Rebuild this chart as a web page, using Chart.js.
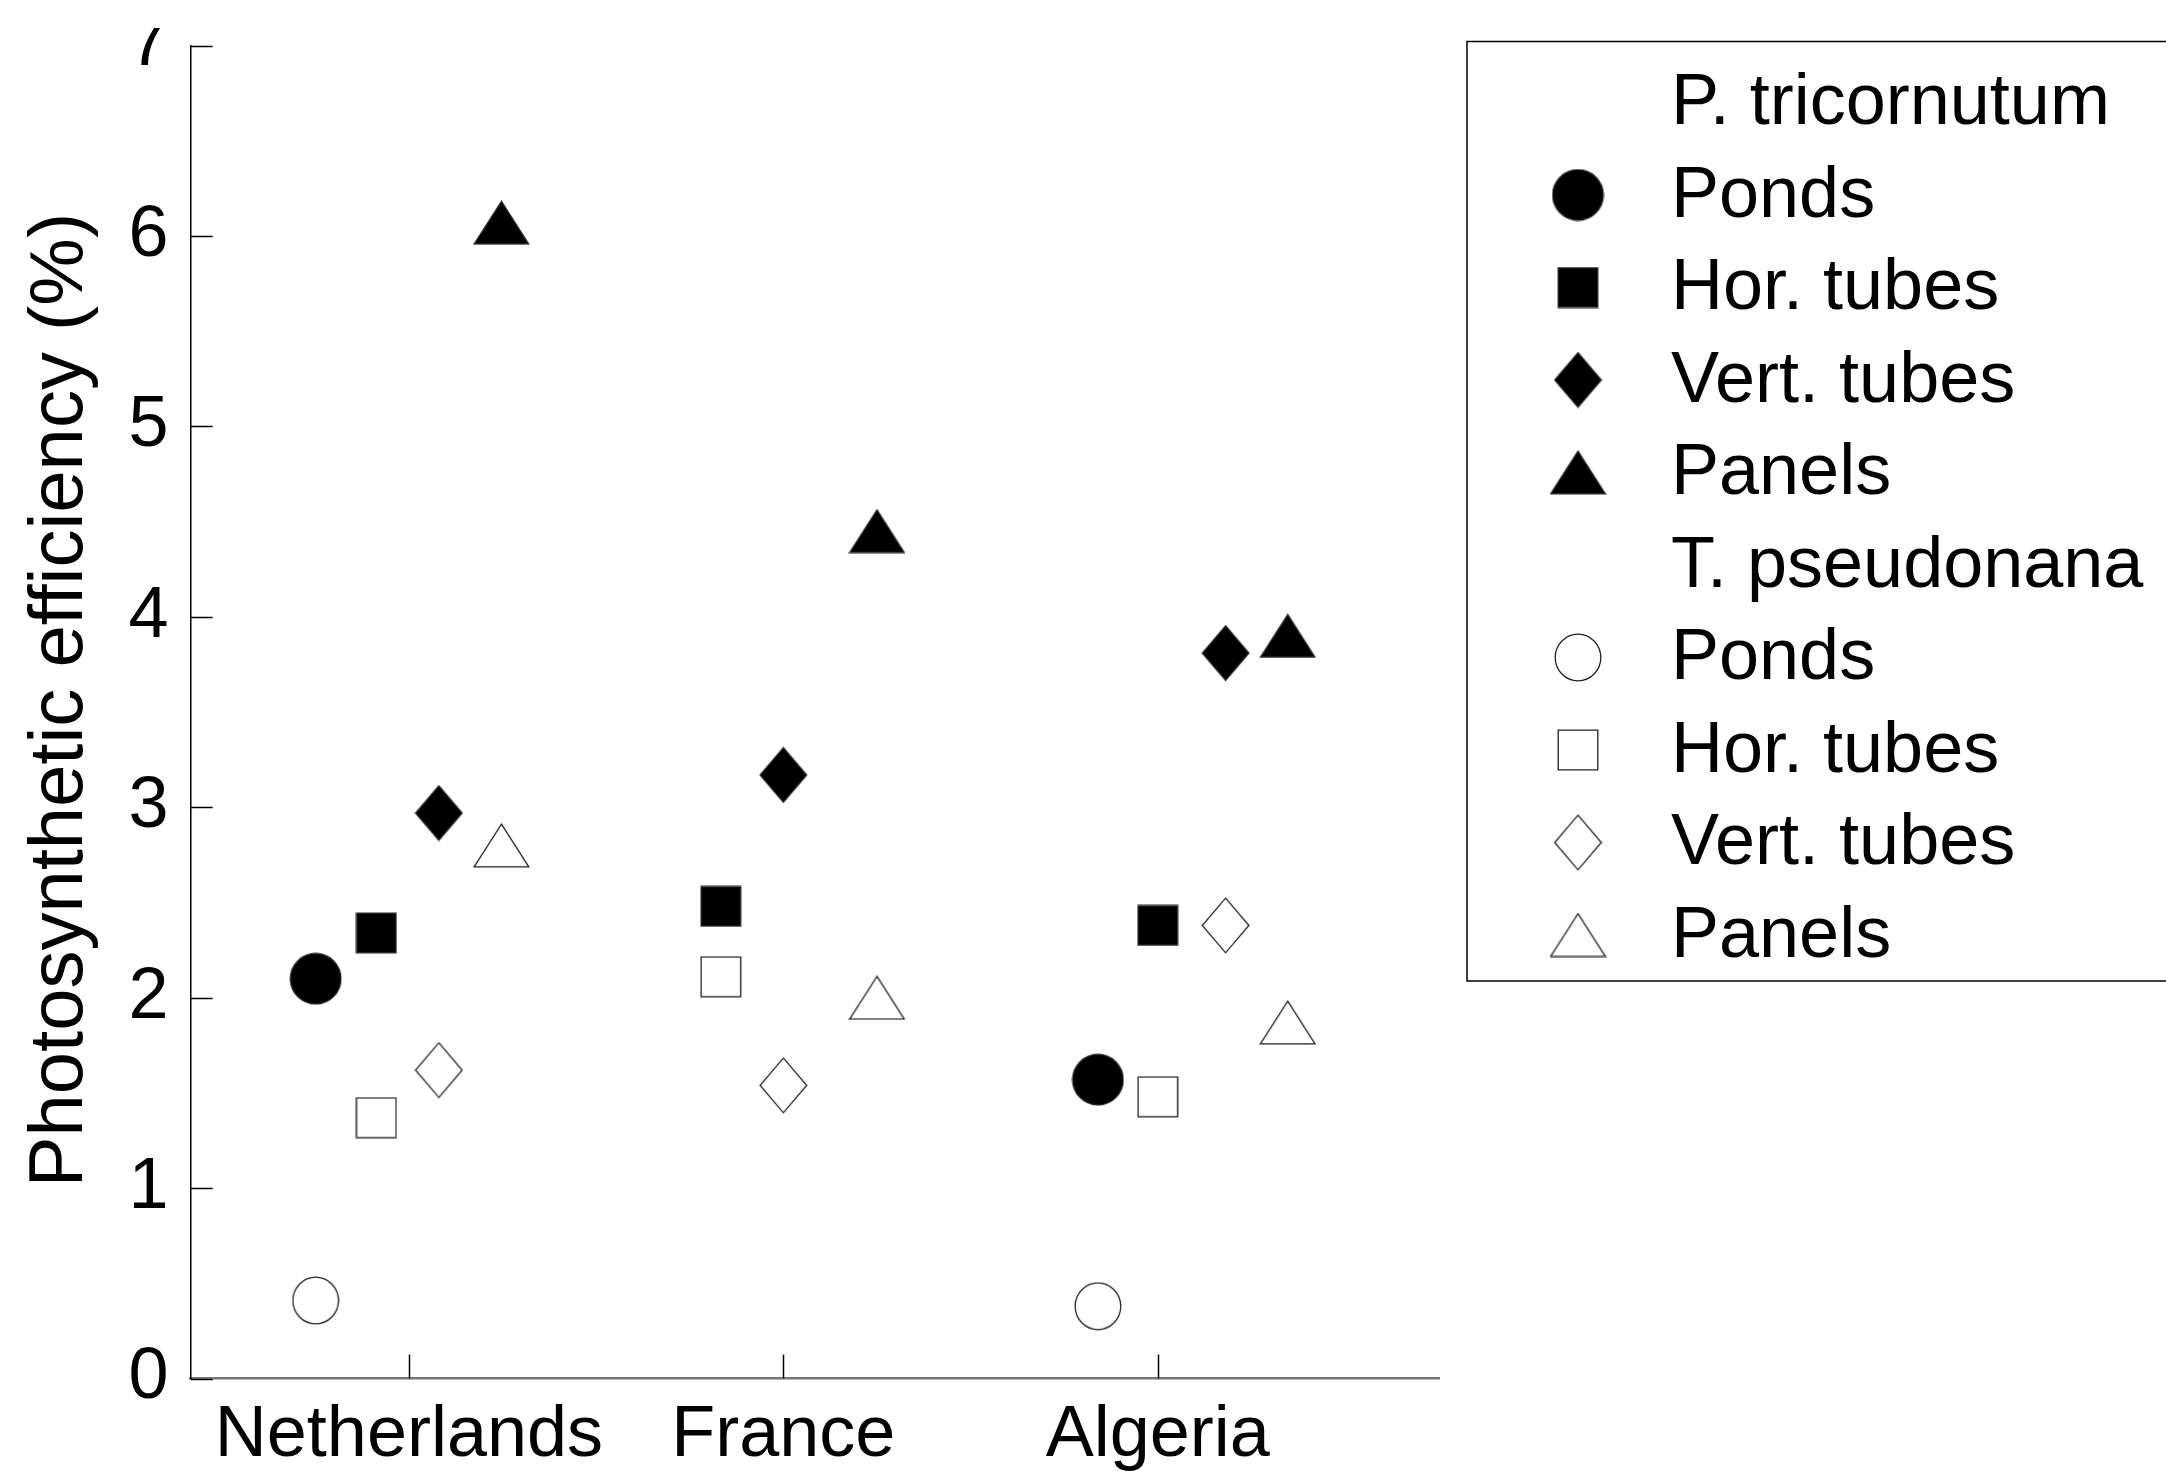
<!DOCTYPE html>
<html>
<head>
<meta charset="utf-8">
<script src="https://cdn.jsdelivr.net/npm/chart.js@4.4.1/dist/chart.umd.min.js"></script>
<style>
  html, body { margin: 0; padding: 0; background: #fff; }
</style>
</head>
<body>
<canvas id="chart" width="2166" height="1471"></canvas>
<script>
const countries = ['Netherlands', 'France', 'Algeria'];
const countryPos = [1, 2, 3];
const yTicks = [0, 1, 2, 3, 4, 5, 6, 7];

// where each reactor type sits inside a country group (x axis units)
const xPonds = [0.751, null, 2.84];
const xHorTubes = [0.913, 1.833, 3.0];
const xVertTubes = [1.08, 2.0, 3.181];
const xPanels = [1.247, 2.25, 3.347];

// P. tricornutum
const triPonds = [2.10, null, 1.57];
const triHorTubes = [2.34, 2.48, 2.38];
const triVertTubes = [2.97, 3.17, 3.81];
const triPanels = [6.07, 4.45, 3.90];

// T. pseudonana
const psePonds = [0.41, null, 0.38];
const pseHorTubes = [1.37, 2.11, 1.48];
const pseVertTubes = [1.62, 1.54, 2.38];
const psePanels = [2.80, 2.00, 1.87];

const FONT = '"Liberation Sans", Arial, sans-serif';

function marker(shape, filled) {
    let dims = { circle: [53, 53], rect: [42, 42], diamond: [49, 57], triangle: [57, 45] };
    if (shape === 'circle' && !filled) dims.circle = [48, 49];
    const [w, h] = dims[shape];
    const c = document.createElement('canvas');
    c.width = w;
    c.height = h;
    const g = c.getContext('2d');
    const m = 1.2;
    g.beginPath();
    if (shape === 'circle') {
        g.ellipse(w / 2, h / 2, w / 2 - m, h / 2 - m, 0, 0, Math.PI * 2);
    } else if (shape === 'rect') {
        g.rect(m, m, w - 2 * m, h - 2 * m);
    } else if (shape === 'diamond') {
        g.moveTo(w / 2, m); g.lineTo(w - m, h / 2); g.lineTo(w / 2, h - m); g.lineTo(m, h / 2);
        g.closePath();
    } else {
        g.moveTo(w / 2, m); g.lineTo(w - m, h - m); g.lineTo(m, h - m);
        g.closePath();
    }
    g.fillStyle = filled ? '#000' : '#fff';
    g.fill();
    g.lineWidth = 1.3;
    g.strokeStyle = '#222';
    g.stroke();
    return c;
}

function points(xs, ys) {
    let out = [];
    xs.forEach((x, i) => {
        if (x !== null && ys[i] !== null) out.push({ x: x, y: ys[i] });
    });
    return out;
}

const series = [
    { label: 'Ponds', xs: xPonds, ys: triPonds, shape: 'circle', filled: true },
    { label: 'Hor. tubes', xs: xHorTubes, ys: triHorTubes, shape: 'rect', filled: true },
    { label: 'Vert. tubes', xs: xVertTubes, ys: triVertTubes, shape: 'diamond', filled: true },
    { label: 'Panels', xs: xPanels, ys: triPanels, shape: 'triangle', filled: true },
    { label: 'Ponds', xs: xPonds, ys: psePonds, shape: 'circle', filled: false },
    { label: 'Hor. tubes', xs: xHorTubes, ys: pseHorTubes, shape: 'rect', filled: false },
    { label: 'Vert. tubes', xs: xVertTubes, ys: pseVertTubes, shape: 'diamond', filled: false },
    { label: 'Panels', xs: xPanels, ys: psePanels, shape: 'triangle', filled: false }
];
series.forEach(s => s.img = marker(s.shape, s.filled));

const legendRows = [{ label: 'P. tricornutum' }]
    .concat(series.slice(0, 4))
    .concat([{ label: 'T. pseudonana' }])
    .concat(series.slice(4));

const datasets = series.map(s => ({
    label: s.label,
    data: points(s.xs, s.ys),
    pointStyle: s.img,
    showLine: false
}));

// small ticks pointing into the plot, as in the original figure
const innerTicks = {
    id: 'innerTicks',
    afterDraw(chart) {
        const { ctx, chartArea, scales } = chart;
        ctx.save();
        ctx.strokeStyle = '#000';
        ctx.lineWidth = 1.5;
        scales.y.ticks.forEach(t => {
            const py = Math.round(scales.y.getPixelForValue(t.value)) + 0.5;
            ctx.beginPath();
            ctx.moveTo(chartArea.left, py);
            ctx.lineTo(chartArea.left + 22, py);
            ctx.stroke();
        });
        scales.x.ticks.forEach(t => {
            const px = Math.round(scales.x.getPixelForValue(t.value)) + 0.5;
            ctx.beginPath();
            ctx.moveTo(px, chartArea.bottom);
            ctx.lineTo(px, chartArea.bottom - 24);
            ctx.stroke();
        });
        // the original is cropped just above the "7"
        ctx.fillStyle = '#fff';
        ctx.fillRect(0, 0, chartArea.left - 5, 28);

        // y axis title, sitting a little above the middle of the axis
        ctx.translate(61, 700);
        ctx.rotate(-Math.PI / 2);
        ctx.font = '76px ' + FONT;
        ctx.fillStyle = '#000';
        ctx.textAlign = 'center';
        ctx.textBaseline = 'middle';
        ctx.fillText('Photosynthetic efficiency (%)', 0, 0);
        ctx.restore();
    }
};

const boxLegend = {
    id: 'boxLegend',
    afterDraw(chart) {
        const ctx = chart.ctx;
        const left = 1467, top = 41.5, bottom = 981;
        const rowTop = 102.5, rowStep = 92.5;
        ctx.save();
        ctx.strokeStyle = '#000';
        ctx.lineWidth = 1.5;
        ctx.strokeRect(left, top, 900, bottom - top);
        ctx.font = '72px ' + FONT;
        ctx.fillStyle = '#000';
        ctx.textBaseline = 'middle';
        legendRows.forEach((r, i) => {
            const y = rowTop + i * rowStep;
            if (r.img) ctx.drawImage(r.img, 1578 - r.img.width / 2, y - r.img.height / 2);
            ctx.fillText(r.label, 1671, y + 2);
        });
        ctx.restore();
    }
};

new Chart(document.getElementById('chart'), {
    type: 'scatter',
    data: { datasets: datasets },
    options: {
        responsive: false,
        animation: false,
        events: [],
        layout: { padding: { top: 45.6, right: 726.6, left: 0, bottom: 0 } },
        plugins: { legend: { display: false }, tooltip: { enabled: false } },
        scales: {
            x: {
                type: 'linear',
                min: 0.417,
                max: 3.752,
                afterBuildTicks: s => { s.ticks = countryPos.map(v => ({ value: v })); },
                afterFit: s => { s.height = 1471 - 1378.6; },
                ticks: {
                    callback: v => countries[countryPos.indexOf(v)],
                    font: { family: FONT, size: 72 },
                    color: '#000',
                    padding: 14,
                    maxRotation: 0,
                    autoSkip: false
                },
                grid: { drawOnChartArea: false, drawTicks: false },
                border: { color: '#777', width: 2.5 }
            },
            y: {
                min: 0,
                max: 7,
                afterBuildTicks: s => { s.ticks = yTicks.map(v => ({ value: v })); },
                afterFit: s => { s.width = 190.6; },
                ticks: {
                    // small lineHeight keeps the top label from pushing the plot down
                    font: { family: FONT, size: 72, lineHeight: 0.5 },
                    color: '#000',
                    padding: 22
                },
                grid: { drawOnChartArea: false, drawTicks: false },
                border: { color: '#000', width: 1.5 }
            }
        }
    },
    plugins: [innerTicks, boxLegend]
});
</script>
</body>
</html>
